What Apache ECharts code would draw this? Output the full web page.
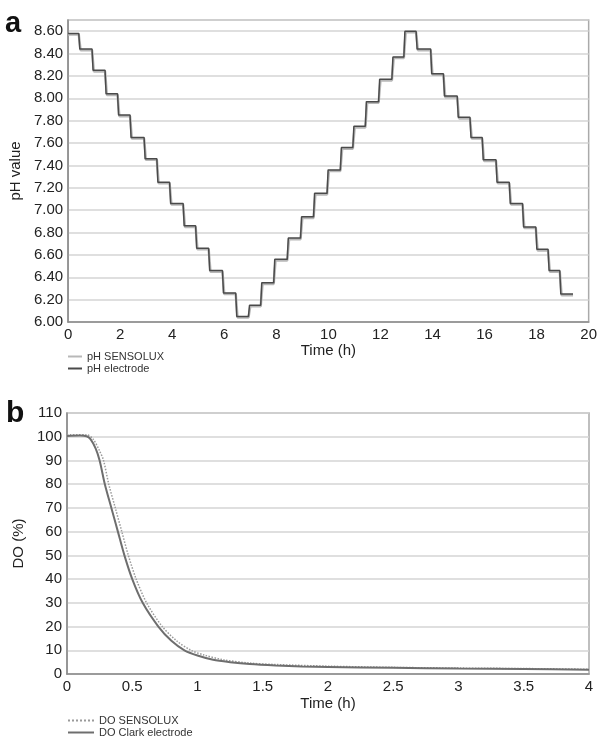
<!DOCTYPE html>
<html><head><meta charset="utf-8">
<script src="https://cdn.jsdelivr.net/npm/echarts@6/dist/echarts.min.js"></script>
<style>html,body{margin:0;padding:0;background:#fff}#c{width:600px;height:739px}</style>
</head><body><div id="c"></div>
<script>
// ---- Panel a: pH staircase ----
var phStepTimes = [0, 0.41, 0.92, 1.42, 1.9, 2.38, 2.92, 3.41, 3.9, 4.42, 4.9, 5.4, 5.93, 6.44, 6.93, 7.4, 7.9, 8.42, 8.93, 9.43, 9.95, 10.46, 10.94, 11.42, 11.93, 12.44, 12.9, 13.37, 13.93, 14.42, 14.95, 15.44, 15.91, 16.44, 16.95, 17.46, 17.97, 18.44, 18.89, 19.4];
var phElectrode = [8.58, 8.44, 8.25, 8.04, 7.85, 7.65, 7.46, 7.25, 7.06, 6.86, 6.66, 6.46, 6.26, 6.05, 6.15, 6.35, 6.56, 6.75, 6.94, 7.15, 7.36, 7.56, 7.75, 7.97, 8.17, 8.37, 8.60, 8.44, 8.22, 8.02, 7.83, 7.65, 7.45, 7.25, 7.06, 6.85, 6.65, 6.46, 6.25];
var phSensolux  = [8.57, 8.43, 8.24, 8.03, 7.84, 7.64, 7.45, 7.24, 7.05, 6.85, 6.65, 6.45, 6.25, 6.04, 6.14, 6.34, 6.55, 6.74, 6.93, 7.14, 7.35, 7.55, 7.74, 7.96, 8.16, 8.36, 8.59, 8.43, 8.21, 8.01, 7.82, 7.64, 7.44, 7.24, 7.05, 6.84, 6.64, 6.45, 6.24];
var phYTicks = [6.0, 8.7, 0.2];
var phXTicks = [0, 20, 2];

// ---- Panel b: dissolved oxygen ----
var doClark = [[0,100.3],[0.1,100.5],[0.15,100.2],[0.18,99],[0.22,95],[0.25,90],[0.29,80],[0.34,70],[0.39,60],[0.44,50],[0.5,40],[0.58,30],[0.7,20],[0.8,14],[0.9,10],[1.0,7.8],[1.12,6],[1.25,5],[1.4,4.2],[1.6,3.6],[1.8,3.2],[2.0,3.0],[2.5,2.6],[3.0,2.3],[3.5,2.1],[4.0,1.8]];
var doSensolux = [[0,100.8],[0.15,100.8],[0.2,99],[0.25,94],[0.28,90],[0.32,80],[0.37,70],[0.42,60],[0.47,50],[0.53,40],[0.61,30],[0.73,20],[0.84,14],[0.95,10],[1.05,8],[1.2,6],[1.4,4.6],[1.6,4],[2.0,3.3],[2.5,2.8],[3.0,2.5],[3.5,2.3],[4.0,2.0]];
var doYTicks = [0, 110, 10];
var doXTicks = [0, 4, 0.5];

function stairs(times, levels, lag) {
  var out = [];
  for (var i = 0; i < levels.length; i++) {
    out.push([times[i] + (i ? lag : 0), levels[i]]);
    out.push([times[i + 1], levels[i]]);
  }
  return out;
}

var FONT = "'Liberation Sans', Arial, sans-serif";
var gridLine = {show: true, lineStyle: {color: '#d4d4d4', width: 1.5}};
var axisLine = {show: true, lineStyle: {color: '#8a8a8a', width: 1.5}};
var lbl = {color: '#222', fontSize: 15, fontFamily: FONT};
var legTxt = {fontSize: 11, color: '#333', fontFamily: FONT};
function leg(name, top, w) {
  return {data: [name], orient: 'horizontal', left: 62, top: top, itemGap: 2, itemWidth: w, itemHeight: 8,
          itemStyle: {opacity: 0}, textStyle: legTxt, selectedMode: false};
}

var chart = echarts.init(document.getElementById('c'), null, {renderer: 'canvas'});
chart.setOption({
  animation: false,
  backgroundColor: '#fff',
  textStyle: {fontFamily: FONT},
  title: [
    {text: 'a', left: 0, top: 4, textStyle: {fontSize: 29, fontWeight: 'bold', color: '#111', fontFamily: FONT}},
    {text: 'b', left: 1, top: 394, textStyle: {fontSize: 30, fontWeight: 'bold', color: '#111', fontFamily: FONT}}
  ],
  grid: [
    {left: 67, top: 20, width: 522, height: 302, show: true, borderColor: '#aaa', borderWidth: 1.5},
    {left: 67, top: 413, width: 522, height: 261, show: true, borderColor: '#aaa', borderWidth: 1.5}
  ],
  legend: [
    leg('pH SENSOLUX', 346, 14),
    leg('pH electrode', 358, 14),
    leg('DO SENSOLUX', 710, 26),
    leg('DO Clark electrode', 722, 26)
  ],
  xAxis: [
    {type: 'value', gridIndex: 0, min: phXTicks[0], max: phXTicks[1], interval: phXTicks[2],
     name: 'Time (h)', nameLocation: 'middle', nameGap: 21, nameTextStyle: lbl,
     axisLine: axisLine, axisTick: {show: false}, splitLine: {show: false}, axisLabel: Object.assign({margin: 5}, lbl)},
    {type: 'value', gridIndex: 1, min: doXTicks[0], max: doXTicks[1], interval: doXTicks[2],
     name: 'Time (h)', nameLocation: 'middle', nameGap: 22, nameTextStyle: lbl,
     axisLine: axisLine, axisTick: {show: false}, splitLine: {show: false}, axisLabel: Object.assign({margin: 5}, lbl)}
  ],
  yAxis: [
    {type: 'value', gridIndex: 0, min: phYTicks[0], max: phYTicks[1], interval: phYTicks[2],
     name: 'pH value', nameLocation: 'middle', nameGap: 41, nameTextStyle: lbl,
     axisLine: axisLine, axisTick: {show: false}, splitLine: gridLine,
     axisLabel: Object.assign({margin: 5, showMaxLabel: false, formatter: function (v) { return v.toFixed(2); }}, lbl)},
    {type: 'value', gridIndex: 1, min: doYTicks[0], max: doYTicks[1], interval: doYTicks[2],
     name: 'DO (%)', nameLocation: 'middle', nameGap: 33, nameTextStyle: lbl,
     axisLine: axisLine, axisTick: {show: false}, splitLine: gridLine,
     axisLabel: Object.assign({margin: 5}, lbl)}
  ],
  series: [
    {name: 'pH SENSOLUX', type: 'line', xAxisIndex: 0, yAxisIndex: 0, symbol: 'none',
     data: stairs(phStepTimes, phSensolux, 0.07), lineStyle: {color: '#b8b8b8', width: 2.5}, itemStyle: {color: '#b8b8b8'}},
    {name: 'pH electrode', type: 'line', xAxisIndex: 0, yAxisIndex: 0, symbol: 'none',
     data: stairs(phStepTimes, phElectrode, 0.04), lineStyle: {color: '#4a4a4a', width: 1.5}, itemStyle: {color: '#4a4a4a'}},
    {name: 'DO SENSOLUX', type: 'line', xAxisIndex: 1, yAxisIndex: 1, symbol: 'none', smooth: 0.3,
     data: doSensolux, lineStyle: {color: '#9a9a9a', width: 1.5, type: 'dotted'}, itemStyle: {color: '#9a9a9a'}},
    {name: 'DO Clark electrode', type: 'line', xAxisIndex: 1, yAxisIndex: 1, symbol: 'none', smooth: 0.3,
     data: doClark, lineStyle: {color: '#6e6e6e', width: 2}, itemStyle: {color: '#6e6e6e'}}
  ]
});
</script></body></html>
